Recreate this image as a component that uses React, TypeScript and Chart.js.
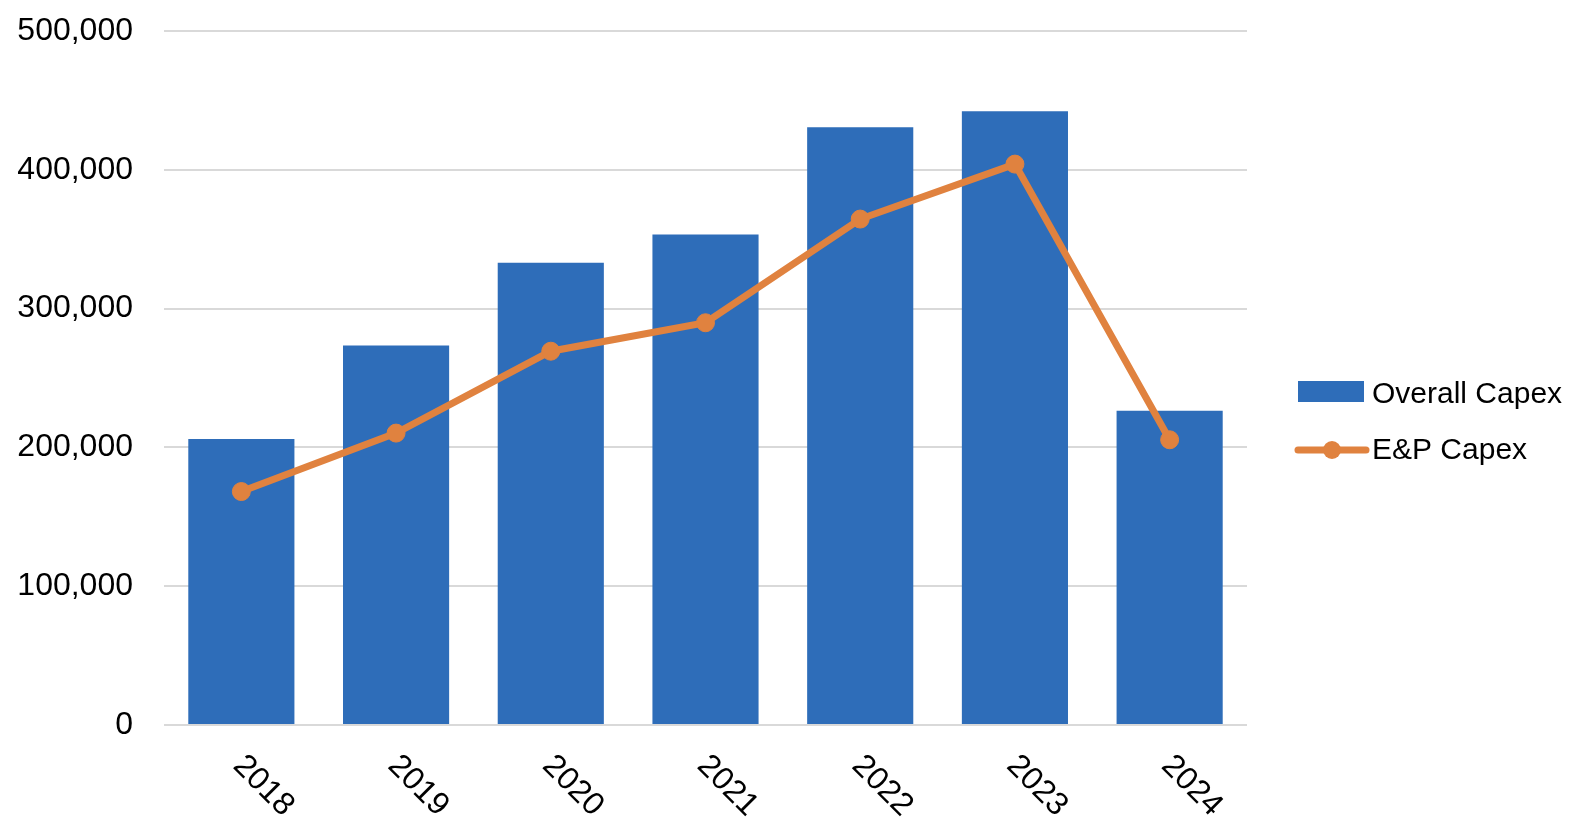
import React, { useEffect, useRef } from 'react';
import { Chart, registerables } from 'chart.js';

Chart.register(...registerables);

const years = ['2018', '2019', '2020', '2021', '2022', '2023', '2024'];
const overallCapex = [206000, 273400, 333000, 353400, 430600, 442100, 226400];
const epCapex = [168200, 210300, 269300, 289800, 364500, 404100, 205500];
const seriesLabels = ['Overall Capex', 'E&P Capex'];
const yMin = 0;
const yMax = 500000;
const yStep = 100000;

const BLUE = '#2E6DB9';
const ORANGE = '#E0823F';
const GRID = '#D9D9D9';
const FONT = '"Liberation Sans", Arial, Helvetica, sans-serif';
const FONT_SIZE = 30;
const TICK_FONT_SIZE = 32;

const customPlugin = {
  id: 'customLabelsLegend',
  afterDraw(chart: any) {
    const ctx = chart.ctx as CanvasRenderingContext2D;
    const xScale = chart.scales.x;
    const area = chart.chartArea;
    ctx.save();
    ctx.fillStyle = '#000000';
    ctx.font = `${TICK_FONT_SIZE}px ${FONT}`;
    // rotated category labels (clockwise 45deg)
    (chart.data.labels as string[]).forEach((lab, i) => {
      const px = xScale.getPixelForTick(i);
      ctx.save();
      ctx.translate(px + 22, area.bottom + 61);
      ctx.rotate(Math.PI / 4);
      ctx.textAlign = 'center';
      ctx.textBaseline = 'middle';
      ctx.fillText(lab, 0, 0);
      ctx.restore();
    });

    // legend
    ctx.font = `${FONT_SIZE}px ${FONT}`;
    const midY = chart.height / 2;
    const lx = area.right + 51;
    const boxW = 66;
    // bar item
    ctx.fillStyle = BLUE;
    ctx.fillRect(lx, midY - 37, boxW, 21);
    ctx.fillStyle = '#000000';
    ctx.textAlign = 'left';
    ctx.textBaseline = 'alphabetic';
    ctx.fillText(chart.data.datasets[0].label, lx + boxW + 8, midY - 15);
    // line item
    const ly = midY + 32;
    ctx.strokeStyle = ORANGE;
    ctx.lineWidth = 7;
    ctx.lineCap = 'round';
    ctx.beginPath();
    ctx.moveTo(lx, ly);
    ctx.lineTo(lx + boxW + 2, ly);
    ctx.stroke();
    ctx.fillStyle = ORANGE;
    ctx.beginPath();
    ctx.arc(lx + boxW / 2 + 1, ly, 9, 0, Math.PI * 2);
    ctx.fill();
    ctx.fillStyle = '#000000';
    ctx.fillText(chart.data.datasets[1].label, lx + boxW + 8, ly + 9);
    ctx.restore();
  },
};

export default function App() {
  const canvasRef = useRef<HTMLCanvasElement | null>(null);

  useEffect(() => {
    document.body.style.margin = '0';
    const canvas = canvasRef.current;
    if (!canvas) return;
    const chart = new Chart(canvas, {
      type: 'bar',
      data: {
        labels: years,
        datasets: [
          {
            type: 'bar',
            label: seriesLabels[0],
            data: overallCapex,
            backgroundColor: BLUE,
            borderWidth: 0,
            categoryPercentage: 1,
            barPercentage: 0.686,
            order: 1,
          } as any,
          {
            type: 'line',
            label: seriesLabels[1],
            data: epCapex,
            borderColor: ORANGE,
            backgroundColor: ORANGE,
            borderWidth: 7,
            pointRadius: 9,
            pointBorderWidth: 1,
            pointBackgroundColor: ORANGE,
            pointBorderColor: ORANGE,
            tension: 0,
            order: 0,
          } as any,
        ],
      },
      plugins: [customPlugin],
      options: {
        animation: false,
        responsive: true,
        maintainAspectRatio: false,
        layout: {
          padding: { top: 31, bottom: 111, left: 0, right: 329 },
        },
        plugins: {
          legend: { display: false },
          tooltip: { enabled: false },
          title: { display: false },
        },
        scales: {
          x: {
            ticks: { display: false },
            grid: { display: false, drawTicks: false },
            border: { display: false },
          },
          y: {
            min: yMin,
            max: yMax,
            afterFit: (s: any) => {
              s.width = 164;
              s.paddingTop = 17;
              s.paddingBottom = 17;
            },
            ticks: {
              stepSize: yStep,
              padding: 31,
              color: '#000000',
              font: { family: FONT, size: TICK_FONT_SIZE },
              callback: (v: any) => Number(v).toLocaleString('en-US'),
            },
            grid: { color: GRID, lineWidth: 2, drawTicks: false },
            border: { display: false },
          },
        },
      },
    });
    return () => chart.destroy();
  }, []);

  return (
    <div style={{ position: 'fixed', left: 0, top: 0, width: '100vw', height: '100vh' }}>
      <canvas ref={canvasRef} />
    </div>
  );
}
